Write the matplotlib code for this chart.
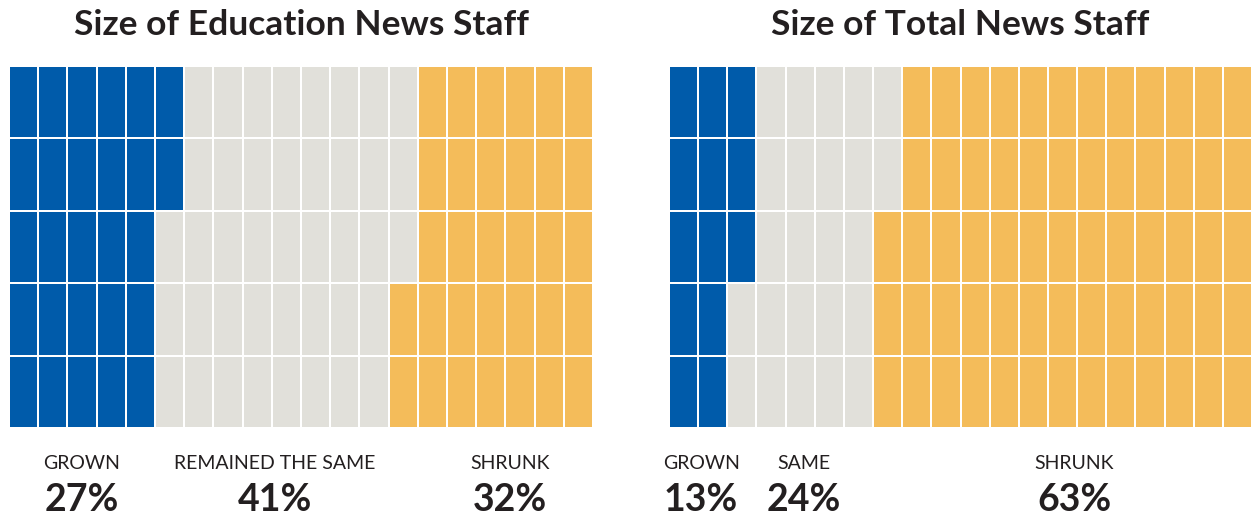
import numpy as np
import matplotlib.pyplot as plt
from matplotlib.colors import ListedColormap

plt.rcParams['font.family'] = ['Lato', 'DejaVu Sans']

# data
categories_edu = ['GROWN', 'REMAINED THE SAME', 'SHRUNK']
values_edu = [27, 41, 32]
categories_total = ['GROWN', 'SAME', 'SHRUNK']
values_total = [13, 24, 63]
titles = ['Size of Education News Staff', 'Size of Total News Staff']

colors = ['#005BAA', '#E1E0DA', '#F4BC5A']
n_rows, n_cols = 5, 20

# label x positions in grid columns (hand placed like the original)
label_x_edu = [2.5, 9.1, 17.15]
label_x_total = [1.1, 4.62, 13.9]


def waffle(ax, values, labels, label_x, title):
    # fill column by column, top to bottom
    codes = np.repeat(np.arange(len(values)), values)
    grid = codes.reshape(n_cols, n_rows).T
    cmap = ListedColormap(colors)
    ax.pcolormesh(np.arange(n_cols + 1), np.arange(n_rows + 1), grid,
                  cmap=cmap, vmin=-0.5, vmax=2.5,
                  edgecolors='white', linewidth=1.2)
    ax.set_xlim(0, n_cols)
    ax.set_ylim(n_rows, 0)
    ax.axis('off')
    ax.text(n_cols / 2, -0.56, title, ha='center', va='center',
            fontsize=25.5, fontweight='bold', color='#231F20')
    for lab, v, x in zip(labels, values, label_x):
        ax.text(x, 5.49, lab, ha='center', va='center',
                fontsize=14, color='#231F20')
        ax.text(x, 6.0, f'{v}%', ha='center', va='center',
                fontsize=27, fontweight='bold', color='#231F20')


fig = plt.figure(figsize=(12.52, 5.19), dpi=100)
ax1 = fig.add_axes([9 / 1252, 1 - 428 / 519, 584 / 1252, 362 / 519])
ax2 = fig.add_axes([669 / 1252, 1 - 428 / 519, 583 / 1252, 362 / 519])

waffle(ax1, values_edu, categories_edu, label_x_edu, titles[0])
waffle(ax2, values_total, categories_total, label_x_total, titles[1])

fig.savefig('out.png', dpi=100)
